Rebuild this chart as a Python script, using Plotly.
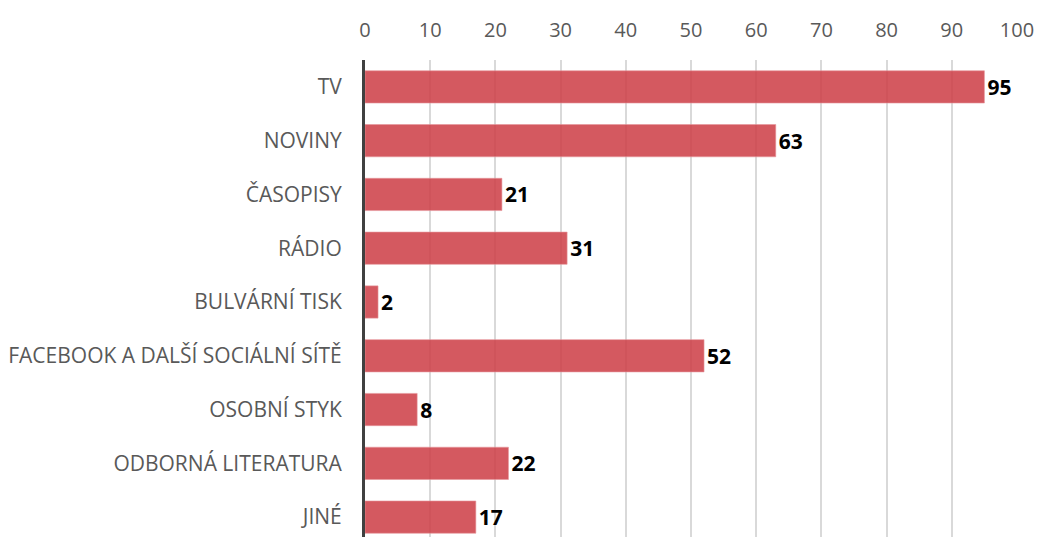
import plotly.graph_objects as go

categories = ["TV", "NOVINY", "ČASOPISY", "RÁDIO", "BULVÁRNÍ TISK",
              "FACEBOOK A DALŠÍ SOCIÁLNÍ SÍTĚ", "OSOBNÍ STYK",
              "ODBORNÁ LITERATURA", "JINÉ"]
values = [95, 63, 21, 31, 2, 52, 8, 22, 17]
x_ticks = list(range(0, 101, 10))

font_family = "'Open Sans', sans-serif"

fig = go.Figure(go.Bar(
    x=values, y=categories, orientation="h",
    marker=dict(color="rgba(205,60,68,0.85)", line=dict(color="rgba(230,150,155,0.6)", width=1)),
    width=0.6,
    text=[str(v) for v in values], textposition="outside",
    textfont=dict(family=font_family, size=21, color="#000000", weight="bold"),
    cliponaxis=False,
))

fig.update_layout(
    width=1038, height=537,
    margin=dict(l=365, r=21, t=60, b=0, autoexpand=False),
    paper_bgcolor="white", plot_bgcolor="white",
    showlegend=False,
    font=dict(family=font_family, color="#595959", size=20),
    xaxis=dict(
        side="top", range=[0, 100], tickvals=x_ticks, automargin=False,
        showgrid=True, gridcolor="#D9D9D9", gridwidth=2,
        zeroline=False, showline=False,
        ticks="outside", ticklen=14, tickcolor="rgba(0,0,0,0)",
        tickfont=dict(size=20, color="#595959", family=font_family),
    ),
    yaxis=dict(
        categoryorder="array", categoryarray=categories, automargin=False,
        range=[8.37, -0.5],
        showgrid=False, zeroline=False,
        showline=True, linecolor="#404040", linewidth=3,
        ticks="outside", ticklen=16, tickcolor="rgba(0,0,0,0)",
        tickfont=dict(size=21, color="#595959", family=font_family),
    ),
)

fig.write_html(
    "out.html",
    config={"displayModeBar": False},
    post_script="document.body.style.margin='0';document.body.style.overflow='hidden';",
)
